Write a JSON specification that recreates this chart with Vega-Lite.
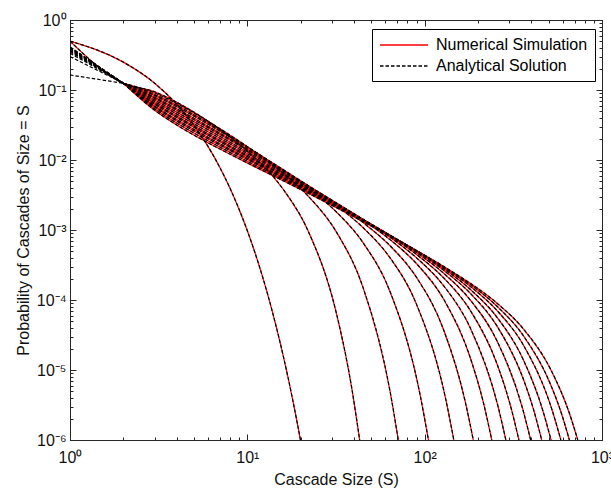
{
  "$schema": "https://vega.github.io/schema/vega-lite/v6.json",
  "width": 532,
  "height": 420,
  "autosize": {"type": "none"},
  "padding": {"left": 70, "top": 20, "right": 9, "bottom": 49},
  "background": "white",
  "config": {
    "view": {"stroke": "#262626", "strokeWidth": 1},
    "font": "Liberation Sans",
    "axis": {
      "domainColor": "#262626", "tickColor": "#262626", "labelColor": "#111111", "titleColor": "#111111",
      "labelFont": "Liberation Sans", "titleFont": "Liberation Sans", "titleFontWeight": "normal",
      "labelFontSize": 16, "titleFontSize": 16, "grid": false, "labelOverlap": false, "labelFlush": false
    }
  },
  "datasets": {
    "curves": [
      {"k":1,"s":1,"p":0.5},{"k":1,"s":2,"p":0.25},{"k":1,"s":3,"p":0.125},{"k":1,"s":4,"p":0.0625},{"k":1,"s":5,"p":0.03125},{"k":1,"s":6,"p":0.015625},{"k":1,"s":7,"p":0.0078125},{"k":1,"s":8,"p":0.00390625},{"k":1,"s":9,"p":0.001953},{"k":1,"s":10,"p":0.0009766},{"k":1,"s":11,"p":0.0004883},{"k":1,"s":12,"p":0.0002441},{"k":1,"s":13,"p":0.0001221},{"k":1,"s":14,"p":0.00006104},{"k":1,"s":15,"p":0.00003052},{"k":1,"s":16,"p":0.00001526},{"k":1,"s":17,"p":0.000007629},{"k":1,"s":18,"p":0.000003815},{"k":1,"s":19,"p":0.000001907},{"k":1,"s":20,"p":0.0000009537},
      {"k":2,"s":1,"p":0.5},{"k":2,"s":2,"p":0.1241},{"k":2,"s":3,"p":0.09435},{"k":2,"s":4,"p":0.06671},{"k":2,"s":6,"p":0.03584},{"k":2,"s":8,"p":0.02129},{"k":2,"s":11,"p":0.0108},{"k":2,"s":16,"p":0.00376},{"k":2,"s":22,"p":0.0009736},{"k":2,"s":32,"p":0.00006034},{"k":2,"s":38.7,"p":0.000005731},{"k":2,"s":43,"p":0.000001},
      {"k":3,"s":2,"p":0.1247},{"k":3,"s":3,"p":0.09074},{"k":3,"s":4,"p":0.06409},{"k":3,"s":6,"p":0.03571},{"k":3,"s":8,"p":0.0226},{"k":3,"s":11,"p":0.01311},{"k":3,"s":16,"p":0.006405},{"k":3,"s":22,"p":0.003059},{"k":3,"s":32,"p":0.0009103},{"k":3,"s":45,"p":0.0001491},{"k":3,"s":63.9,"p":0.00000485},{"k":3,"s":71,"p":0.000001},
      {"k":4,"s":2,"p":0.1249},{"k":4,"s":3,"p":0.08642},{"k":4,"s":4,"p":0.06042},{"k":4,"s":6,"p":0.03395},{"k":4,"s":8,"p":0.02191},{"k":4,"s":11,"p":0.01324},{"k":4,"s":16,"p":0.007101},{"k":4,"s":22,"p":0.003984},{"k":4,"s":32,"p":0.001779},{"k":4,"s":45,"p":0.0006553},{"k":4,"s":64,"p":0.0001289},{"k":4,"s":94.5,"p":0.000004276},{"k":4,"s":105,"p":0.000001},
      {"k":5,"s":2,"p":0.1249},{"k":5,"s":3,"p":0.08317},{"k":5,"s":4,"p":0.05766},{"k":5,"s":6,"p":0.03248},{"k":5,"s":8,"p":0.02115},{"k":5,"s":11,"p":0.013},{"k":5,"s":16,"p":0.007226},{"k":5,"s":22,"p":0.004299},{"k":5,"s":32,"p":0.002211},{"k":5,"s":45,"p":0.001078},{"k":5,"s":64,"p":0.0003958},{"k":5,"s":90,"p":0.0000866},{"k":5,"s":131.4,"p":0.000003853},{"k":5,"s":146,"p":0.000001},
      {"k":6,"s":2,"p":0.125},{"k":6,"s":3,"p":0.079},{"k":6,"s":4,"p":0.05406},{"k":6,"s":6,"p":0.03045},{"k":6,"s":8,"p":0.01996},{"k":6,"s":11,"p":0.01241},{"k":6,"s":16,"p":0.007047},{"k":6,"s":22,"p":0.004309},{"k":6,"s":32,"p":0.00235},{"k":6,"s":45,"p":0.001274},{"k":6,"s":64,"p":0.000591},{"k":6,"s":90,"p":0.0002101},{"k":6,"s":128,"p":0.00003731},{"k":6,"s":169.2,"p":0.000003559},{"k":6,"s":188,"p":0.000001},
      {"k":7,"s":2,"p":0.125},{"k":7,"s":3,"p":0.07598},{"k":7,"s":4,"p":0.0515},{"k":7,"s":6,"p":0.02899},{"k":7,"s":8,"p":0.0191},{"k":7,"s":11,"p":0.01198},{"k":7,"s":16,"p":0.006887},{"k":7,"s":22,"p":0.004278},{"k":7,"s":32,"p":0.002408},{"k":7,"s":45,"p":0.001382},{"k":7,"s":64,"p":0.0007232},{"k":7,"s":90,"p":0.00033},{"k":7,"s":128,"p":0.0001025},{"k":7,"s":180,"p":0.00001549},{"k":7,"s":215.1,"p":0.000003306},{"k":7,"s":239,"p":0.000001},
      {"k":8,"s":2,"p":0.125},{"k":8,"s":3,"p":0.07213},{"k":8,"s":4,"p":0.04826},{"k":8,"s":6,"p":0.02714},{"k":8,"s":8,"p":0.01798},{"k":8,"s":11,"p":0.01137},{"k":8,"s":16,"p":0.006621},{"k":8,"s":22,"p":0.004164},{"k":8,"s":32,"p":0.00239},{"k":8,"s":45,"p":0.001412},{"k":8,"s":64,"p":0.0007827},{"k":8,"s":90,"p":0.0004003},{"k":8,"s":128,"p":0.0001597},{"k":8,"s":180,"p":0.00004082},{"k":8,"s":258.3,"p":0.000003124},{"k":8,"s":287,"p":0.000001},
      {"k":9,"s":2,"p":0.125},{"k":9,"s":3,"p":0.06847},{"k":9,"s":4,"p":0.0452},{"k":9,"s":6,"p":0.02539},{"k":9,"s":8,"p":0.01691},{"k":9,"s":11,"p":0.01079},{"k":9,"s":16,"p":0.006353},{"k":9,"s":22,"p":0.004039},{"k":9,"s":32,"p":0.002354},{"k":9,"s":45,"p":0.001418},{"k":9,"s":64,"p":0.000815},{"k":9,"s":90,"p":0.0004465},{"k":9,"s":128,"p":0.000207},{"k":9,"s":180,"p":0.00007231},{"k":9,"s":256,"p":0.00001215},{"k":9,"s":306,"p":0.000002964},{"k":9,"s":340,"p":0.000001},
      {"k":10,"s":2,"p":0.125},{"k":10,"s":3,"p":0.06498},{"k":10,"s":4,"p":0.04236},{"k":10,"s":6,"p":0.02376},{"k":10,"s":8,"p":0.0159},{"k":10,"s":11,"p":0.01023},{"k":10,"s":16,"p":0.006092},{"k":10,"s":22,"p":0.003911},{"k":10,"s":32,"p":0.002306},{"k":10,"s":45,"p":0.00141},{"k":10,"s":64,"p":0.0008294},{"k":10,"s":90,"p":0.0004743},{"k":10,"s":128,"p":0.0002409},{"k":10,"s":180,"p":0.0001015},{"k":10,"s":256,"p":0.00002597},{"k":10,"s":356.4,"p":0.00000283},{"k":10,"s":396,"p":0.000001},
      {"k":11,"s":2,"p":0.125},{"k":11,"s":3,"p":0.06249},{"k":11,"s":4,"p":0.04034},{"k":11,"s":6,"p":0.0226},{"k":11,"s":8,"p":0.01518},{"k":11,"s":11,"p":0.009836},{"k":11,"s":16,"p":0.005903},{"k":11,"s":22,"p":0.003815},{"k":11,"s":32,"p":0.00227},{"k":11,"s":45,"p":0.001401},{"k":11,"s":64,"p":0.0008377},{"k":11,"s":90,"p":0.0004925},{"k":11,"s":128,"p":0.0002653},{"k":11,"s":180,"p":0.0001261},{"k":11,"s":256,"p":0.00004229},{"k":11,"s":360,"p":0.00000743},{"k":11,"s":411.3,"p":0.00000271},{"k":11,"s":457,"p":0.000001},
      {"k":12,"s":2,"p":0.125},{"k":12,"s":3,"p":0.0593},{"k":12,"s":4,"p":0.03778},{"k":12,"s":6,"p":0.02115},{"k":12,"s":8,"p":0.01429},{"k":12,"s":11,"p":0.009324},{"k":12,"s":16,"p":0.005654},{"k":12,"s":22,"p":0.003686},{"k":12,"s":32,"p":0.002215},{"k":12,"s":45,"p":0.00138},{"k":12,"s":64,"p":0.0008352},{"k":12,"s":90,"p":0.0005005},{"k":12,"s":128,"p":0.0002798},{"k":12,"s":180,"p":0.0001433},{"k":12,"s":256,"p":0.00005661},{"k":12,"s":360,"p":0.00001402},{"k":12,"s":464.4,"p":0.00000261},{"k":12,"s":516,"p":0.000001},
      {"k":13,"s":2,"p":0.125},{"k":13,"s":3,"p":0.05703},{"k":13,"s":4,"p":0.03599},{"k":13,"s":6,"p":0.02012},{"k":13,"s":8,"p":0.01364},{"k":13,"s":11,"p":0.008961},{"k":13,"s":16,"p":0.005475},{"k":13,"s":22,"p":0.003593},{"k":13,"s":32,"p":0.002175},{"k":13,"s":45,"p":0.001365},{"k":13,"s":64,"p":0.0008335},{"k":13,"s":90,"p":0.0005067},{"k":13,"s":128,"p":0.0002913},{"k":13,"s":180,"p":0.0001579},{"k":13,"s":256,"p":0.00007068},{"k":13,"s":360,"p":0.00002275},{"k":13,"s":527.4,"p":0.000002512},{"k":13,"s":586,"p":0.000001},
      {"k":14,"s":2,"p":0.125},{"k":14,"s":3,"p":0.05412},{"k":14,"s":4,"p":0.03371},{"k":14,"s":6,"p":0.01882},{"k":14,"s":8,"p":0.01283},{"k":14,"s":11,"p":0.008491},{"k":14,"s":16,"p":0.005243},{"k":14,"s":22,"p":0.00347},{"k":14,"s":32,"p":0.002119},{"k":14,"s":45,"p":0.00134},{"k":14,"s":64,"p":0.0008255},{"k":14,"s":90,"p":0.0005075},{"k":14,"s":128,"p":0.0002977},{"k":14,"s":180,"p":0.0001675},{"k":14,"s":256,"p":0.0000813},{"k":14,"s":360,"p":0.00003097},{"k":14,"s":512,"p":0.000006278},{"k":14,"s":589.5,"p":0.00000243},{"k":14,"s":655,"p":0.000001},
      {"k":15,"s":2,"p":0.125},{"k":15,"s":3,"p":0.05137},{"k":15,"s":4,"p":0.03157},{"k":15,"s":6,"p":0.0176},{"k":15,"s":8,"p":0.01206},{"k":15,"s":11,"p":0.00805},{"k":15,"s":16,"p":0.005021},{"k":15,"s":22,"p":0.00335},{"k":15,"s":32,"p":0.002064},{"k":15,"s":45,"p":0.001315},{"k":15,"s":64,"p":0.0008159},{"k":15,"s":90,"p":0.0005065},{"k":15,"s":128,"p":0.0003017},{"k":15,"s":180,"p":0.0001745},{"k":15,"s":256,"p":0.00008995},{"k":15,"s":360,"p":0.00003878},{"k":15,"s":512,"p":0.00001037},{"k":15,"s":657,"p":0.000002351},{"k":15,"s":730,"p":0.000001}
    ],
    "ana": [
      {"k":3,"s":1,"p":0.164},{"k":3,"s":2,"p":0.1247},
      {"k":4,"s":1,"p":0.3},{"k":4,"s":2,"p":0.1249},
      {"k":5,"s":1,"p":0.335},{"k":5,"s":2,"p":0.1249},
      {"k":6,"s":1,"p":0.35},{"k":6,"s":2,"p":0.125},
      {"k":7,"s":1,"p":0.36},{"k":7,"s":2,"p":0.125},
      {"k":8,"s":1,"p":0.37},{"k":8,"s":2,"p":0.125},
      {"k":9,"s":1,"p":0.378},{"k":9,"s":2,"p":0.125},
      {"k":10,"s":1,"p":0.385},{"k":10,"s":2,"p":0.125},
      {"k":11,"s":1,"p":0.392},{"k":11,"s":2,"p":0.125},
      {"k":12,"s":1,"p":0.398},{"k":12,"s":2,"p":0.125},
      {"k":13,"s":1,"p":0.403},{"k":13,"s":2,"p":0.125},
      {"k":14,"s":1,"p":0.408},{"k":14,"s":2,"p":0.125},
      {"k":15,"s":1,"p":0.413},{"k":15,"s":2,"p":0.125}
    ]
  },
  "resolve": {"axis": {"x": "independent", "y": "independent"}},
  "layer": [
    {
      "data": {"name": "curves"},
      "mark": {"type": "line", "clip": true, "strokeWidth": 1.2, "interpolate": "monotone"},
      "encoding": {
        "x": {"field": "s", "type": "quantitative", "scale": {"type": "log", "domain": [1, 1000], "nice": false},
          "axis": {"orient": "bottom", "title": "Cascade Size (S)",
            "values": [1,2,3,4,5,6,7,8,9,10,20,30,40,50,60,70,80,90,100,200,300,400,500,600,700,800,900,1000],
            "labelExpr": "datum.value==1?'10⁰':datum.value==10?'10¹':datum.value==100?'10²':datum.value==1000?'10³':''",
            "tickSize": {"condition": {"test": "datum.value==1||datum.value==10||datum.value==100||datum.value==1000", "value": -6}, "value": -3},
            "labelPadding": 15, "titlePadding": 3}},
        "y": {"field": "p", "type": "quantitative", "scale": {"type": "log", "domain": [0.000001, 1], "nice": false},
          "axis": {"orient": "left", "title": "Probability of Cascades of Size = S",
            "values": [0.000001,0.000002,0.000003,0.000004,0.000005,0.000006,0.000007,0.000008,0.000009,0.00001,0.00002,0.00003,0.00004,0.00005,0.00006,0.00007,0.00008,0.00009,0.0001,0.0002,0.0003,0.0004,0.0005,0.0006,0.0007,0.0008,0.0009,0.001,0.002,0.003,0.004,0.005,0.006,0.007,0.008,0.009,0.01,0.02,0.03,0.04,0.05,0.06,0.07,0.08,0.09,0.1,0.2,0.3,0.4,0.5,0.6,0.7,0.8,0.9,1],
            "labelExpr": "datum.value==1?'10⁰':datum.value==0.1?'10⁻¹':datum.value==0.01?'10⁻²':datum.value==0.001?'10⁻³':datum.value==0.0001?'10⁻⁴':datum.value==0.00001?'10⁻⁵':datum.value==0.000001?'10⁻⁶':''",
            "tickSize": {"condition": {"test": "datum.value==1||datum.value==0.1||datum.value==0.01||datum.value==0.001||datum.value==0.0001||datum.value==0.00001||datum.value==0.000001", "value": -6}, "value": -3},
            "labelPadding": 10, "titlePadding": 5}},
        "detail": {"field": "k", "type": "nominal"},
        "color": {"datum": "Numerical Simulation", "type": "nominal",
          "scale": {"domain": ["Numerical Simulation", "Analytical Solution"], "range": ["#ff0000", "#000000"]},
          "legend": {"title": null, "orient": "none", "legendX": 302, "legendY": 9, "direction": "vertical",
            "strokeColor": "#000000", "fillColor": "#ffffff", "padding": 7, "symbolType": "M-1,0H5", "symbolSize": 256,
            "symbolStrokeWidth": 1.3, "labelFontSize": 16, "labelFont": "Liberation Sans", "labelColor": "#000000",
            "rowPadding": 4, "labelOffset": 39,
            "encode": {"symbols": {"update": {"strokeDash": {"signal": "datum.value === 'Analytical Solution' ? [3.5, 2] : [1, 0]"}}}}}}
      }
    },
    {
      "data": {"name": "curves"},
      "mark": {"type": "line", "clip": true, "strokeWidth": 1.2, "strokeDash": [3.5, 2], "interpolate": "monotone"},
      "encoding": {
        "x": {"field": "s", "type": "quantitative",
          "axis": {"orient": "top", "title": null, "labels": false,
            "values": [1,2,3,4,5,6,7,8,9,10,20,30,40,50,60,70,80,90,100,200,300,400,500,600,700,800,900,1000],
            "tickSize": {"condition": {"test": "datum.value==1||datum.value==10||datum.value==100||datum.value==1000", "value": -6}, "value": -3}}},
        "y": {"field": "p", "type": "quantitative",
          "axis": {"orient": "right", "title": null, "labels": false,
            "values": [0.000001,0.000002,0.000003,0.000004,0.000005,0.000006,0.000007,0.000008,0.000009,0.00001,0.00002,0.00003,0.00004,0.00005,0.00006,0.00007,0.00008,0.00009,0.0001,0.0002,0.0003,0.0004,0.0005,0.0006,0.0007,0.0008,0.0009,0.001,0.002,0.003,0.004,0.005,0.006,0.007,0.008,0.009,0.01,0.02,0.03,0.04,0.05,0.06,0.07,0.08,0.09,0.1,0.2,0.3,0.4,0.5,0.6,0.7,0.8,0.9,1],
            "tickSize": {"condition": {"test": "datum.value==1||datum.value==0.1||datum.value==0.01||datum.value==0.001||datum.value==0.0001||datum.value==0.00001||datum.value==0.000001", "value": -6}, "value": -3}}},
        "detail": {"field": "k", "type": "nominal"},
        "color": {"datum": "Analytical Solution", "type": "nominal"}
      }
    },
    {
      "data": {"name": "ana"},
      "mark": {"type": "line", "clip": true, "strokeWidth": 1.2, "strokeDash": [3.5, 2]},
      "encoding": {
        "x": {"field": "s", "type": "quantitative", "axis": null},
        "y": {"field": "p", "type": "quantitative", "axis": null},
        "detail": {"field": "k", "type": "nominal"},
        "color": {"datum": "Analytical Solution", "type": "nominal"}
      }
    }
  ]
}
